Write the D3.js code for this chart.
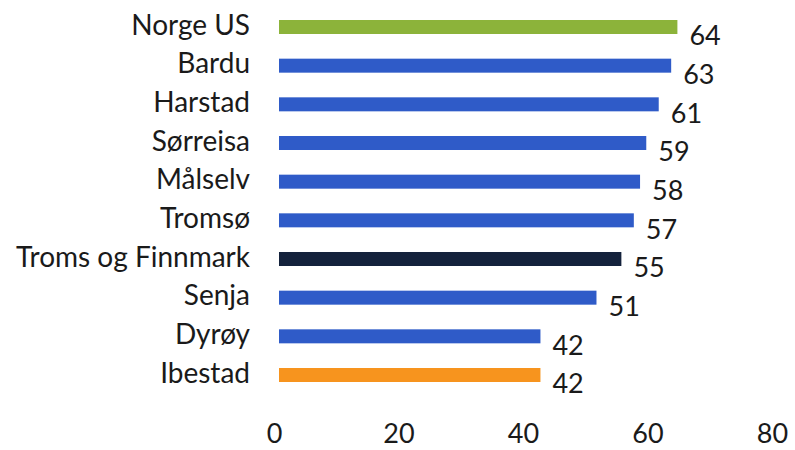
<!DOCTYPE html>
<html><head><meta charset="utf-8">
<script src="https://cdn.jsdelivr.net/npm/d3@7"></script>
<style>body{margin:0;background:#fff}svg{display:block}text{font-family:Lato,"Open Sans",sans-serif;fill:#1a1a1a}</style>
</head><body><svg id="c" width="795" height="450"></svg>
<script>
const categories = ["Norge US","Bardu","Harstad","Sørreisa","Målselv","Tromsø","Troms og Finnmark","Senja","Dyrøy","Ibestad"];
const values = [64,63,61,59,58,57,55,51,42,42];
const barColors = ["#8cb33a","#2f5bc8","#2f5bc8","#2f5bc8","#2f5bc8","#2f5bc8","#14223c","#2f5bc8","#2f5bc8","#f7941e"];
const tickValues = [0,20,40,60,80];

const svg = d3.select("#c");
const x = d3.scaleLinear().domain([0,80]).range([279,777]);
const y = d3.scalePoint().domain(categories).range([27,375]);
const bh = 14;

svg.selectAll("rect.bar").data(categories).join("rect")
  .attr("class","bar")
  .attr("x", x(0))
  .attr("y", d => y(d) - bh/2)
  .attr("width", (d,i) => x(values[i]) - x(0))
  .attr("height", bh)
  .attr("fill", (d,i) => barColors[i]);

svg.selectAll("text.cat").data(categories).join("text")
  .attr("class","cat")
  .attr("x", 250)
  .attr("y", d => y(d) - 2)
  .attr("dy","0.35em")
  .attr("text-anchor","end")
  .attr("font-size", 28)
  .text(d => d);

svg.selectAll("text.val").data(categories).join("text")
  .attr("class","val")
  .attr("x", (d,i) => x(values[i]) + 12)
  .attr("y", d => y(d) + 9)
  .attr("dy","0.35em")
  .attr("font-size", 27)
  .text((d,i) => values[i]);

const axis = d3.axisBottom(x).tickValues(tickValues).tickSize(0).tickPadding(0);
const g = svg.append("g").attr("transform","translate(-5,424)").call(axis);
g.select(".domain").remove();
g.selectAll("text").attr("font-size",27).attr("fill","#1a1a1a").style("font-family","Lato, 'Open Sans', sans-serif");
</script></body></html>
